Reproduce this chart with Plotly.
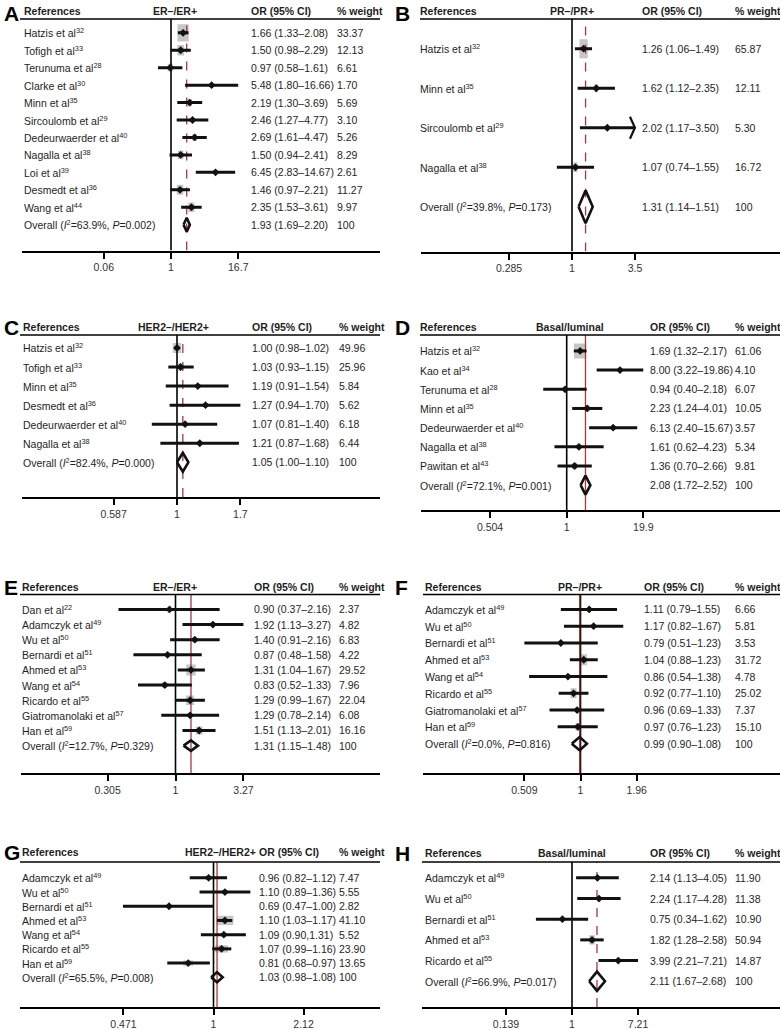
import math
import plotly.graph_objects as go

# ---------------- DATA ----------------
# Panel A: ER-/ER+
a_refs = ["Hatzis et al<sup>32</sup>", "Tofigh et al<sup>33</sup>", "Terunuma et al<sup>28</sup>",
          "Clarke et al<sup>30</sup>", "Minn et al<sup>35</sup>", "Sircoulomb et al<sup>29</sup>",
          "Dedeurwaerder et al<sup>40</sup>", "Nagalla et al<sup>38</sup>", "Loi et al<sup>39</sup>",
          "Desmedt et al<sup>36</sup>", "Wang et al<sup>44</sup>"]
a_or = [1.66, 1.50, 0.97, 5.48, 2.19, 2.46, 2.69, 1.50, 6.45, 1.46, 2.35]
a_lo = [1.33, 0.98, 0.58, 1.80, 1.30, 1.27, 1.61, 0.94, 2.83, 0.97, 1.53]
a_hi = [2.08, 2.29, 1.61, 16.66, 3.69, 4.77, 4.47, 2.41, 14.67, 2.21, 3.61]
a_wt = [33.37, 12.13, 6.61, 1.70, 5.69, 3.10, 5.26, 8.29, 2.61, 11.27, 9.97]
a_overall = [1.93, 1.69, 2.20]
a_stats = ["63.9%", "0.002"]
a_ticks = ["0.06", "1", "16.7"]

# Panel B: PR-/PR+
b_refs = ["Hatzis et al<sup>32</sup>", "Minn et al<sup>35</sup>", "Sircoulomb et al<sup>29</sup>",
          "Nagalla et al<sup>38</sup>"]
b_or = [1.26, 1.62, 2.02, 1.07]
b_lo = [1.06, 1.12, 1.17, 0.74]
b_hi = [1.49, 2.35, 3.50, 1.55]
b_wt = [65.87, 12.11, 5.30, 16.72]
b_overall = [1.31, 1.14, 1.51]
b_stats = ["39.8%", "0.173"]
b_ticks = ["0.285", "1", "3.5"]

# Panel C: HER2-/HER2+
c_refs = ["Hatzis et al<sup>32</sup>", "Tofigh et al<sup>33</sup>", "Minn et al<sup>35</sup>",
          "Desmedt et al<sup>36</sup>", "Dedeurwaerder et al<sup>40</sup>", "Nagalla et al<sup>38</sup>"]
c_or = [1.00, 1.03, 1.19, 1.27, 1.07, 1.21]
c_lo = [0.98, 0.93, 0.91, 0.94, 0.81, 0.87]
c_hi = [1.02, 1.15, 1.54, 1.70, 1.40, 1.68]
c_wt = [49.96, 25.96, 5.84, 5.62, 6.18, 6.44]
c_overall = [1.05, 1.00, 1.10]
c_stats = ["82.4%", "0.000"]
c_ticks = ["0.587", "1", "1.7"]

# Panel D: Basal/luminal
d_refs = ["Hatzis et al<sup>32</sup>", "Kao et al<sup>34</sup>", "Terunuma et al<sup>28</sup>",
          "Minn et al<sup>35</sup>", "Dedeurwaerder et al<sup>40</sup>", "Nagalla et al<sup>38</sup>",
          "Pawitan et al<sup>43</sup>"]
d_or = [1.69, 8.00, 0.94, 2.23, 6.13, 1.61, 1.36]
d_lo = [1.32, 3.22, 0.40, 1.24, 2.40, 0.62, 0.70]
d_hi = [2.17, 19.86, 2.18, 4.01, 15.67, 4.23, 2.66]
d_wt = [61.06, 4.10, 6.07, 10.05, 3.57, 5.34, 9.81]
d_overall = [2.08, 1.72, 2.52]
d_stats = ["72.1%", "0.001"]
d_ticks = ["0.504", "1", "19.9"]

# Panel E: ER-/ER+
e_refs = ["Dan et al<sup>22</sup>", "Adamczyk et al<sup>49</sup>", "Wu et al<sup>50</sup>",
          "Bernardi et al<sup>51</sup>", "Ahmed et al<sup>53</sup>", "Wang et al<sup>54</sup>",
          "Ricardo et al<sup>55</sup>", "Giatromanolaki et al<sup>57</sup>", "Han et al<sup>59</sup>"]
e_or = [0.90, 1.92, 1.40, 0.87, 1.31, 0.83, 1.29, 1.29, 1.51]
e_lo = [0.37, 1.13, 0.91, 0.48, 1.04, 0.52, 0.99, 0.78, 1.13]
e_hi = [2.16, 3.27, 2.16, 1.58, 1.67, 1.33, 1.67, 2.14, 2.01]
e_wt = [2.37, 4.82, 6.83, 4.22, 29.52, 7.96, 22.04, 6.08, 16.16]
e_overall = [1.31, 1.15, 1.48]
e_stats = ["12.7%", "0.329"]
e_ticks = ["0.305", "1", "3.27"]

# Panel F: PR-/PR+
f_refs = ["Adamczyk et al<sup>49</sup>", "Wu et al<sup>50</sup>", "Bernardi et al<sup>51</sup>",
          "Ahmed et al<sup>53</sup>", "Wang et al<sup>54</sup>", "Ricardo et al<sup>55</sup>",
          "Giatromanolaki et al<sup>57</sup>", "Han et al<sup>59</sup>"]
f_or = [1.11, 1.17, 0.79, 1.04, 0.86, 0.92, 0.96, 0.97]
f_lo = [0.79, 0.82, 0.51, 0.88, 0.54, 0.77, 0.69, 0.76]
f_hi = [1.55, 1.67, 1.23, 1.23, 1.38, 1.10, 1.33, 1.23]
f_wt = [6.66, 5.81, 3.53, 31.72, 4.78, 25.02, 7.37, 15.10]
f_overall = [0.99, 0.90, 1.08]
f_stats = ["0.0%", "0.816"]
f_ticks = ["0.509", "1", "1.96"]

# Panel G: HER2-/HER2+
g_refs = ["Adamczyk et al<sup>49</sup>", "Wu et al<sup>50</sup>", "Bernardi et al<sup>51</sup>",
          "Ahmed et al<sup>53</sup>", "Wang et al<sup>54</sup>", "Ricardo et al<sup>55</sup>",
          "Han et al<sup>59</sup>"]
g_or = [0.96, 1.10, 0.69, 1.10, 1.09, 1.07, 0.81]
g_lo = [0.82, 0.89, 0.47, 1.03, 0.90, 0.99, 0.68]
g_hi = [1.12, 1.36, 1.00, 1.17, 1.31, 1.16, 0.97]
g_wt = [7.47, 5.55, 2.82, 41.10, 5.52, 23.90, 13.65]
g_sep = ["–", "–", "–", "–", ",", "–", "–"]
g_overall = [1.03, 0.98, 1.08]
g_stats = ["65.5%", "0.008"]
g_ticks = ["0.471", "1", "2.12"]

# Panel H: Basal/luminal
h_refs = ["Adamczyk et al<sup>49</sup>", "Wu et al<sup>50</sup>", "Bernardi et al<sup>51</sup>",
          "Ahmed et al<sup>53</sup>", "Ricardo et al<sup>55</sup>"]
h_or = [2.14, 2.24, 0.75, 1.82, 3.99]
h_lo = [1.13, 1.17, 0.34, 1.28, 2.21]
h_hi = [4.05, 4.28, 1.62, 2.58, 7.21]
h_wt = [11.90, 11.38, 10.90, 50.94, 14.87]
h_overall = [2.11, 1.67, 2.68]
h_stats = ["66.9%", "0.017"]
h_ticks = ["0.139", "1", "7.21"]

titles = ["ER–/ER+", "PR–/PR+", "HER2–/HER2+", "Basal/luminal",
          "ER–/ER+", "PR–/PR+", "HER2–/HER2+", "Basal/luminal"]
letters = ["A", "B", "C", "D", "E", "F", "G", "H"]

# ---------------- LAYOUT CONFIG (pixel geometry) ----------------
W, H = 780, 1030
FONT = "Liberation Sans, Arial, Helvetica, sans-serif"
TXT = "#1e1e1e"
RED = "#b03535"
BOX = "#c6c6c6"
FS = 10.5

geo = [
    dict(xd0=22, xd1=380, line_y=19, axis_y=252, first=33, last=226, px1=171, ppd=55, hdr_y=11,
         label_x=22, title_cx=175, or_x=249, w_x=335, letter_x=2, kx=1.95, ky=3.0, dia=7, dash="dash", hx0=20),
    dict(xd0=421, xd1=780, line_y=19, axis_y=253, first=49, last=208, px1=572, ppd=115.7, hdr_y=11,
         label_x=418, title_cx=572, or_x=640, w_x=733, letter_x=393, kx=1.02, ky=2.34, dia=16.5, dash="dash", hx0=420),
    dict(xd0=22, xd1=380, line_y=337, axis_y=500, first=350, last=465, px1=177, ppd=275, hdr_y=329,
         label_x=21, title_cx=173, or_x=250, w_x=337, letter_x=2, kx=1.18, ky=1.41, dia=9.5, dash="dash", hx0=20),
    dict(xd0=421, xd1=780, line_y=337, axis_y=513, first=353, last=488, px1=566.7, ppd=59, hdr_y=329,
         label_x=418, title_cx=570, or_x=648, w_x=733, letter_x=393, kx=1.58, ky=1.92, dia=9.5, dash="solid", hx0=420),
    dict(xd0=21, xd1=380, line_y=598, axis_y=778, first=613, last=750, px1=175.5, ppd=132, hdr_y=590,
         label_x=20, title_cx=175, or_x=252, w_x=337, letter_x=2, kx=1.72, ky=2.03, dia=5.3, dash="solid", hx0=20),
    dict(xd0=423, xd1=780, line_y=598, axis_y=778, first=613, last=748, px1=580.5, ppd=192, hdr_y=590,
         label_x=423, title_cx=580, or_x=642, w_x=733, letter_x=393, kx=1.19, ky=2.0, dia=6.7, dash="solid", hx0=423),
    dict(xd0=20, xd1=380, line_y=867, axis_y=1013, first=883, last=983, px1=213.5, ppd=276, hdr_y=857,
         label_x=20, title_cx=220, or_x=257, w_x=337, letter_x=2, kx=2.65, ky=1.45, dia=5, dash="solid", hx0=20),
    dict(xd0=422, xd1=780, line_y=867, axis_y=1013, first=883, last=987, px1=572, ppd=77, hdr_y=858,
         label_x=423, title_cx=572, or_x=648, w_x=733, letter_x=393, kx=0.8, ky=1.3, dia=9.7, dash="dash", hx0=422),
]

data = [
    dict(refs=a_refs, orv=a_or, lo=a_lo, hi=a_hi, wt=a_wt, ov=a_overall, st=a_stats, ticks=a_ticks),
    dict(refs=b_refs, orv=b_or, lo=b_lo, hi=b_hi, wt=b_wt, ov=b_overall, st=b_stats, ticks=b_ticks, arrow=[2]),
    dict(refs=c_refs, orv=c_or, lo=c_lo, hi=c_hi, wt=c_wt, ov=c_overall, st=c_stats, ticks=c_ticks),
    dict(refs=d_refs, orv=d_or, lo=d_lo, hi=d_hi, wt=d_wt, ov=d_overall, st=d_stats, ticks=d_ticks),
    dict(refs=e_refs, orv=e_or, lo=e_lo, hi=e_hi, wt=e_wt, ov=e_overall, st=e_stats, ticks=e_ticks),
    dict(refs=f_refs, orv=f_or, lo=f_lo, hi=f_hi, wt=f_wt, ov=f_overall, st=f_stats, ticks=f_ticks),
    dict(refs=g_refs, orv=g_or, lo=g_lo, hi=g_hi, wt=g_wt, ov=g_overall, st=g_stats, ticks=g_ticks, sep=g_sep),
    dict(refs=h_refs, orv=h_or, lo=h_lo, hi=h_hi, wt=h_wt, ov=h_overall, st=h_stats, ticks=h_ticks),
]


def fx(px):
    return px / W


def fy(py):
    return 1 - py / H


fig = go.Figure()
annotations = []
shapes = []
layout_axes = {}

for i, (d, g) in enumerate(zip(data, geo)):
    k = i + 1
    xa, ya = ("x", "y") if k == 1 else (f"x{k}", f"y{k}")
    xname, yname = ("xaxis", "yaxis") if k == 1 else (f"xaxis{k}", f"yaxis{k}")
    n_st = len(d["orv"])
    n = n_st + 1
    s = (g["last"] - g["first"]) / (n - 1)
    top = -(g["first"] - g["line_y"]) / s
    bot = (n - 1) + (g["axis_y"] - g["last"]) / s
    rows = list(range(n_st))
    orow = n_st
    ppd = g["ppd"]

    up = float(d["ticks"][2])
    tickvals = [1 / up, 1, up]

    layout_axes[xname] = dict(
        type="log", domain=[fx(g["xd0"]), fx(g["xd1"])],
        range=[(g["xd0"] - g["px1"]) / ppd, (g["xd1"] - g["px1"]) / ppd],
        anchor=ya, showline=True, linecolor="black", linewidth=2,
        ticks="outside", ticklen=6, tickwidth=2, tickcolor="black",
        tickvals=tickvals, ticktext=d["ticks"], showgrid=False, zeroline=False,
        tickfont=dict(family=FONT, size=FS, color="#333333"), fixedrange=True,
    )
    layout_axes[yname] = dict(
        domain=[fy(g["axis_y"]), fy(g["line_y"])], range=[bot, top], visible=False,
        anchor=xa, showgrid=False, zeroline=False, fixedrange=True,
    )

    common = dict(xaxis=xa, yaxis=ya, showlegend=False, hoverinfo="skip")

    # weight boxes (area ~ weight)
    bx, by = [], []
    for r, e, w in zip(rows, d["orv"], d["wt"]):
        hw = g["kx"] * math.sqrt(w) / 2 / ppd
        hh = g["ky"] * math.sqrt(w) / 2 / s
        x0, x1 = e * 10 ** (-hw), e * 10 ** hw
        bx += [x0, x1, x1, x0, x0, None]
        by += [r - hh, r - hh, r + hh, r + hh, r - hh, None]
    fig.add_trace(go.Scatter(x=bx, y=by, mode="lines", fill="toself", fillcolor=BOX,
                             line=dict(width=0, color=BOX), **common))

    # reference line at 1
    fig.add_trace(go.Scatter(x=[1, 1], y=[bot, top], mode="lines",
                             line=dict(color="black", width=1.6), **common))
    # overall estimate line
    fig.add_trace(go.Scatter(x=[d["ov"][0], d["ov"][0]], y=[bot, top], mode="lines",
                             line=dict(color=RED, width=1.3, dash=g["dash"]), **common))

    # confidence intervals
    cx, cy = [], []
    for r, lo, hi in zip(rows, d["lo"], d["hi"]):
        cx += [lo, hi, None]
        cy += [r, r, None]
    fig.add_trace(go.Scatter(x=cx, y=cy, mode="lines", line=dict(color="#111111", width=3), **common))

    # truncated CI arrows
    for r in d.get("arrow", []):
        ah = 11 / s
        aw = 5 / ppd
        hi = d["hi"][r]
        fig.add_trace(go.Scatter(x=[hi * 10 ** (-aw), hi, hi * 10 ** (-aw)], y=[r - ah, r, r + ah],
                                 mode="lines", line=dict(color="#111111", width=2.2), **common))

    # point estimates
    fig.add_trace(go.Scatter(x=d["orv"], y=rows, mode="markers",
                             marker=dict(symbol="diamond", size=6, color="#111111"), **common))

    # overall diamond
    ov, olo, ohi = d["ov"]
    dh = g["dia"] / s
    fig.add_trace(go.Scatter(x=[olo, ov, ohi, ov, olo], y=[orow, orow - dh, orow, orow + dh, orow],
                             mode="lines", line=dict(color="#111111", width=2.6), **common))

    # ---- text ----
    tfont = dict(family=FONT, size=FS, color=TXT)
    hdrs = [("<b>References</b>", g["label_x"], "left"),
            (f"<b>{titles[i]}</b>", g["title_cx"], "center"),
            ("<b>OR (95% CI)</b>", g["or_x"], "left"),
            ("<b>% weight</b>", g["w_x"], "left")]
    for txt, x, anc in hdrs:
        annotations.append(dict(text=txt, x=fx(x), y=fy(g["hdr_y"]), xref="paper", yref="paper",
                                xanchor=anc, yanchor="middle", showarrow=False, font=tfont))
    annotations.append(dict(text=f"<b>{letters[i]}</b>", x=fx(g["letter_x"]),
                            y=fy(max(0, g["hdr_y"] - 13)),
                            xref="paper", yref="paper", xanchor="left", yanchor="top",
                            showarrow=False, font=dict(family=FONT, size=21, color="black")))
    shapes.append(dict(type="line", xref="paper", yref="paper", x0=fx(g["hx0"]), x1=fx(g["xd1"]),
                       y0=fy(g["line_y"]), y1=fy(g["line_y"]), line=dict(color="black", width=1.5)))

    seps = d.get("sep", ["–"] * n_st)
    labels = d["refs"] + [f"Overall (<i>I</i><sup>2</sup>={d['st'][0]}, <i>P</i>={d['st'][1]})"]
    ortxt = [f"{e:.2f} ({lo:.2f}{sp}{hi:.2f})" for e, lo, hi, sp in zip(d["orv"], d["lo"], d["hi"], seps)]
    ortxt.append(f"{ov:.2f} ({olo:.2f}–{ohi:.2f})")
    wtxt = [f"{w:.2f}" for w in d["wt"]] + ["100"]
    for r in range(n):
        for txt, x in ((labels[r], g["label_x"]), (ortxt[r], g["or_x"]), (wtxt[r], g["w_x"])):
            annotations.append(dict(text=txt, x=fx(x), y=r, xref="paper", yref=ya,
                                    xanchor="left", yanchor="middle", showarrow=False, font=tfont))

fig.update_layout(
    width=W, height=H, margin=dict(l=0, r=0, t=0, b=0),
    paper_bgcolor="white", plot_bgcolor="white",
    annotations=annotations, shapes=shapes, showlegend=False,
    font=dict(family=FONT, size=FS, color=TXT),
    **layout_axes,
)

fig.write_html("out.html", config={"displayModeBar": False},
               post_script="document.body.style.margin='0';document.body.style.overflow='hidden';")
